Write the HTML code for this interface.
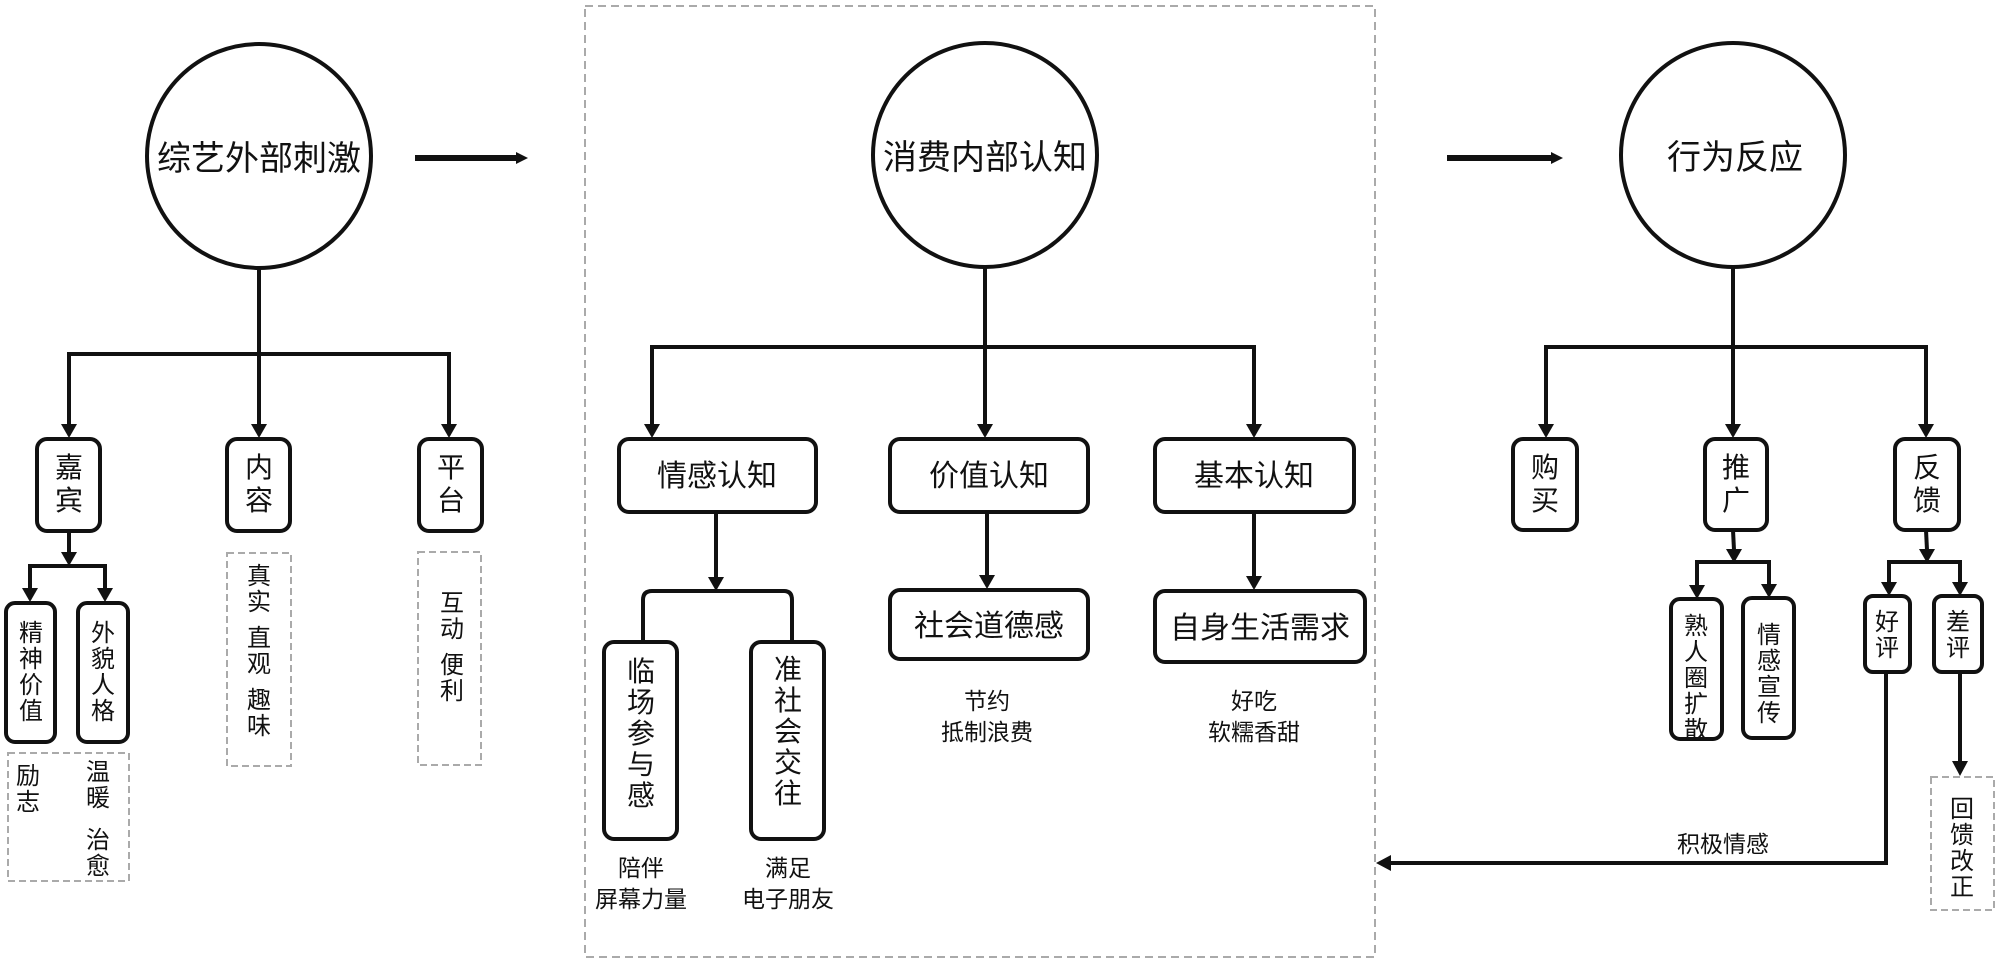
<!DOCTYPE html>
<html><head><meta charset="utf-8"><style>
html,body{margin:0;padding:0;background:#fff;}
svg{display:block;}
text{font-family:"Liberation Sans","Noto Sans CJK SC",sans-serif;fill:#111;}
</style></head><body>
<svg width="1999" height="963" viewBox="0 0 1999 963" xmlns="http://www.w3.org/2000/svg">
<g stroke="#111" stroke-width="4" fill="none">
<rect x="585" y="6" width="790" height="951" stroke="#aaa" stroke-width="2" stroke-dasharray="8,5"/>
<ellipse cx="259" cy="156" rx="112" ry="112"/>
<ellipse cx="985" cy="155" rx="112" ry="112"/>
<ellipse cx="1733" cy="155" rx="112" ry="112"/>
</g>
<g stroke="#111" stroke-width="4" fill="none">
<line x1="415" y1="158" x2="518" y2="158" stroke-width="6"/>
<path d="M516,152 L528,158 L516,164 z" fill="#111" stroke="none"/>
<line x1="1447" y1="158" x2="1553" y2="158" stroke-width="6"/>
<path d="M1551,152 L1563,158 L1551,164 z" fill="#111" stroke="none"/>

<polyline points="259,268 259,354"/>
<polyline points="69,425 69,354 449,354 449,425"/>
<line x1="259" y1="354" x2="259" y2="425"/>
<line x1="69" y1="532" x2="69" y2="555"/>
<polyline points="30,590 30,566 105,566 105,590"/>
<line x1="985" y1="267" x2="985" y2="425"/>
<polyline points="652,425 652,347 1254,347 1254,425"/>
<line x1="716" y1="512" x2="716" y2="578"/>
<line x1="987" y1="512" x2="987" y2="576"/>
<line x1="1254" y1="512" x2="1254" y2="577"/>
<path d="M643,641 L643,600 Q643,591 652,591 L784,591 Q792,591 792,600 L792,641" stroke-width="4"/>
<line x1="1733" y1="267" x2="1733" y2="425"/>
<polyline points="1546,425 1546,347 1926,347 1926,425"/>
<line x1="1733" y1="530" x2="1734" y2="550"/>
<polyline points="1697,586 1697,562 1769,562 1769,586"/>
<line x1="1926" y1="530" x2="1927" y2="550"/>
<polyline points="1889,584 1889,562 1960,562 1960,584"/>
<polyline points="1886,672 1886,863 1388,863"/>
<line x1="1960" y1="672" x2="1960" y2="762"/>
</g>
<g fill="#111">
<path d="M61,424 L77,424 L69,438 z"/>
<path d="M251,424 L267,424 L259,438 z"/>
<path d="M441,424 L457,424 L449,438 z"/>
<path d="M61,552 L77,552 L69,566 z"/>
<path d="M22,588 L38,588 L30,602 z"/>
<path d="M97,588 L113,588 L105,602 z"/>
<path d="M644,424 L660,424 L652,438 z"/>
<path d="M977,424 L993,424 L985,438 z"/>
<path d="M1246,424 L1262,424 L1254,438 z"/>
<path d="M708,577 L724,577 L716,591 z"/>
<path d="M979,575 L995,575 L987,589 z"/>
<path d="M1246,576 L1262,576 L1254,590 z"/>
<path d="M1538,424 L1554,424 L1546,438 z"/>
<path d="M1725,424 L1741,424 L1733,438 z"/>
<path d="M1918,424 L1934,424 L1926,438 z"/>
<path d="M1726,549 L1742,549 L1734,563 z"/>
<path d="M1689,585 L1705,585 L1697,599 z"/>
<path d="M1761,584 L1777,584 L1769,598 z"/>
<path d="M1919,549 L1935,549 L1927,563 z"/>
<path d="M1881,582 L1897,582 L1889,596 z"/>
<path d="M1952,582 L1968,582 L1960,596 z"/>
<path d="M1952,761 L1968,761 L1960,776 z"/>
<path d="M1376,863 L1391,855 L1391,871 z"/>
</g>
<g stroke="#111" stroke-width="4" fill="#fff">
<rect x="37" y="439" width="63" height="92" rx="10"/>
<rect x="227" y="439" width="63" height="92" rx="10"/>
<rect x="419" y="439" width="63" height="92" rx="10"/>
<rect x="6" y="603" width="49" height="139" rx="9"/>
<rect x="78" y="603" width="50" height="139" rx="9"/>
<rect x="619" y="439" width="197" height="73" rx="10"/>
<rect x="890" y="439" width="198" height="73" rx="10"/>
<rect x="1155" y="439" width="199" height="73" rx="10"/>
<rect x="604" y="642" width="73" height="197" rx="10"/>
<rect x="751" y="642" width="73" height="197" rx="10"/>
<rect x="890" y="590" width="198" height="69" rx="10"/>
<rect x="1155" y="591" width="210" height="71" rx="10"/>
<rect x="1513" y="439" width="64" height="91" rx="10"/>
<rect x="1705" y="439" width="62" height="91" rx="10"/>
<rect x="1895" y="439" width="64" height="91" rx="10"/>
<rect x="1671" y="599" width="51" height="140" rx="9"/>
<rect x="1743" y="598" width="51" height="140" rx="9"/>
<rect x="1865" y="596" width="45" height="76" rx="8"/>
<rect x="1934" y="596" width="48" height="76" rx="8"/>
</g>
<g stroke="#aaa" stroke-width="2" fill="none" stroke-dasharray="7,4">
<rect x="8" y="753" width="121" height="128"/>
<rect x="227" y="553" width="64" height="213"/>
<rect x="418" y="552" width="63" height="213"/>
<rect x="1931" y="777" width="63" height="133"/>
</g>
<g font-size="34" text-anchor="middle">
<text x="259" y="170">综艺外部刺激</text>
<text x="985" y="169">消费内部认知</text>
<text x="1735" y="169">行为反应</text>
</g>
<g font-size="28" text-anchor="middle">
<text x="69" y="477">嘉</text><text x="69" y="510">宾</text>
<text x="259" y="477">内</text><text x="259" y="510">容</text>
<text x="451" y="477">平</text><text x="451" y="510">台</text>
<text x="1545" y="477">购</text><text x="1545" y="510">买</text>
<text x="1736" y="477">推</text><text x="1736" y="510">广</text>
<text x="1927" y="477">反</text><text x="1927" y="510">馈</text>
</g>
<g font-size="30" text-anchor="middle">
<text x="717" y="486">情感认知</text>
<text x="989" y="486">价值认知</text>
<text x="1254" y="486">基本认知</text>
<text x="989" y="636">社会道德感</text>
<text x="1260" y="638">自身生活需求</text>
</g>
<g font-size="24" text-anchor="middle">
<text x="31" y="641">精</text><text x="31" y="667">神</text><text x="31" y="693">价</text><text x="31" y="719">值</text>
<text x="103" y="641">外</text><text x="103" y="667">貌</text><text x="103" y="693">人</text><text x="103" y="719">格</text>
<text x="28" y="784">励</text><text x="28" y="810">志</text>
<text x="98" y="780">温</text><text x="98" y="806">暖</text><text x="98" y="848">治</text><text x="98" y="874">愈</text>
<text x="259" y="584">真</text><text x="259" y="610">实</text><text x="259" y="646">直</text><text x="259" y="672">观</text><text x="259" y="708">趣</text><text x="259" y="734">味</text>
<text x="452" y="611">互</text><text x="452" y="637">动</text><text x="452" y="673">便</text><text x="452" y="699">利</text>
<text x="1696" y="634">熟</text><text x="1696" y="660">人</text><text x="1696" y="686">圈</text><text x="1696" y="712">扩</text><text x="1696" y="738">散</text>
<text x="1769" y="643">情</text><text x="1769" y="669">感</text><text x="1769" y="695">宣</text><text x="1769" y="721">传</text>
<text x="1887" y="630">好</text><text x="1887" y="656">评</text>
<text x="1958" y="630">差</text><text x="1958" y="656">评</text>
<text x="1962" y="817">回</text><text x="1962" y="843">馈</text><text x="1962" y="869">改</text><text x="1962" y="895">正</text>
</g>
<g font-size="28" text-anchor="middle">
<text x="641" y="681">临</text><text x="641" y="712">场</text><text x="641" y="743">参</text><text x="641" y="774">与</text><text x="641" y="805">感</text>
<text x="788" y="679">准</text><text x="788" y="710">社</text><text x="788" y="741">会</text><text x="788" y="772">交</text><text x="788" y="803">往</text>
</g>
<g font-size="23" text-anchor="middle">
<text x="641" y="876">陪伴</text><text x="641" y="907">屏幕力量</text>
<text x="788" y="876">满足</text><text x="788" y="907">电子朋友</text>
<text x="987" y="709">节约</text><text x="987" y="740">抵制浪费</text>
<text x="1254" y="709">好吃</text><text x="1254" y="740">软糯香甜</text>
<text x="1723" y="852">积极情感</text>
</g>
</svg>
</body></html>
